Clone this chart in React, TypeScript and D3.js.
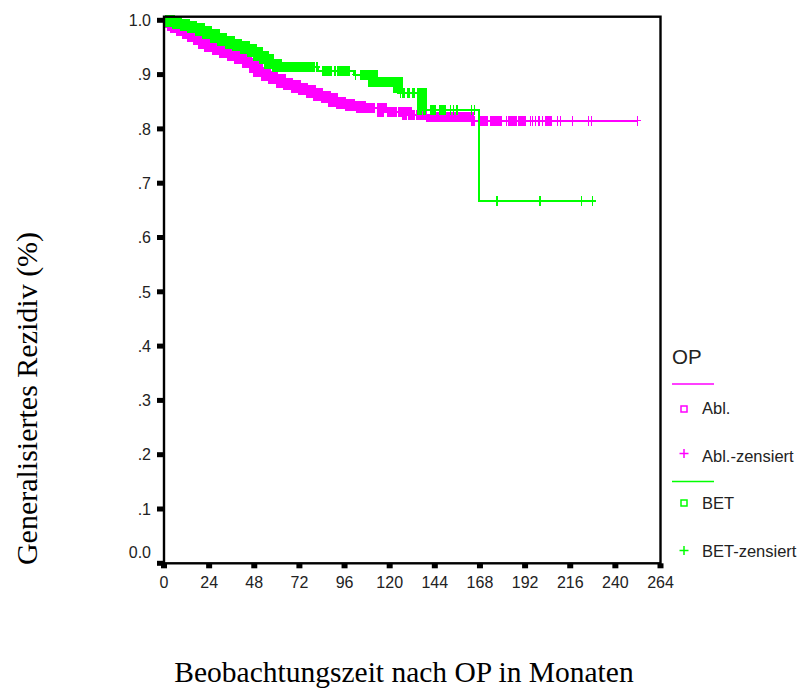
import React from 'react';
import * as d3 from 'd3';

// ---------- data ----------
const xTickValues = [0, 24, 48, 72, 96, 120, 144, 168, 192, 216, 240, 264];
const yTickValues = [0, 0.1, 0.2, 0.3, 0.4, 0.5, 0.6, 0.7, 0.8, 0.9, 1.0];
const yTickLabels = ['0.0', '.1', '.2', '.3', '.4', '.5', '.6', '.7', '.8', '.9', '1.0'];

// Abl. (magenta) Kaplan-Meier steps
const ablEventTimes = [0, 2, 4, 6, 9, 12, 15, 18, 21, 24, 28, 32, 36, 40, 44, 48, 50, 54, 58, 62, 66, 70, 74, 78, 82, 86, 90, 94, 99, 105, 116, 129, 142, 162];
const ablSurvival = [1, 0.995, 0.99, 0.985, 0.98, 0.975, 0.97, 0.963, 0.957, 0.951, 0.945, 0.94, 0.934, 0.928, 0.921, 0.912, 0.905, 0.897, 0.891, 0.885, 0.881, 0.876, 0.871, 0.866, 0.861, 0.856, 0.85, 0.846, 0.842, 0.838, 0.832, 0.826, 0.821, 0.815];
const ablEndTime = 251.8;
const ablCensorTimes = [113.4, 114.4, 182, 194.8, 196, 197.6, 199.3, 201.4, 209.2, 210.8, 217.2, 225.7, 227.3, 251.8];
const ablCensorBlockStarts = [1, 115, 118.7, 124.5, 129.9, 134.1, 141.6, 163, 167.1, 173.5, 183.1, 188.4, 202.8];
const ablCensorBlockEnds = [112, 117, 124, 129.3, 133.6, 140, 162, 165.5, 172.5, 179.9, 187.9, 192.5, 206.5];

// BET (green) Kaplan-Meier steps
const betEventTimes = [0, 3, 7, 11, 15, 19, 23, 27, 31, 35, 39, 43, 47, 50, 53, 56, 60, 82, 101, 111, 124.5, 137, 167.3];
const betSurvival = [1, 0.997, 0.993, 0.989, 0.985, 0.98, 0.974, 0.967, 0.962, 0.957, 0.952, 0.947, 0.942, 0.935, 0.928, 0.92, 0.914, 0.907, 0.9, 0.886, 0.867, 0.834, 0.667];
const betEndTime = 227.7;
const betCensorTimes = [81.3, 91, 101.7, 125.6, 152.2, 153.8, 155.9, 163.4, 165, 177, 200, 222, 227.7];
const betCensorBlockStarts = [0.5, 83.9, 91.9, 104.3, 126.5, 129.2, 131.8, 134.5, 137.5, 141.6, 146.4];
const betCensorBlockEnds = [80.4, 89.2, 99, 124.5, 128.3, 130.9, 133.6, 137.2, 139.4, 144.8, 150.1];

const legendLabels = ['Abl.', 'Abl.-zensiert', 'BET', 'BET-zensiert'];

// ---------- layout ----------
const W = 808;
const H = 689;
const MAGENTA = '#ff00ff';
const GREEN = '#00ff00';
const SANS = '"Liberation Sans", Arial, Helvetica, sans-serif';
const SERIF = '"Liberation Serif", "Times New Roman", Times, serif';

const x = d3.scaleLinear().domain([0, 264]).range([164, 660.5]);
const y = d3.scaleLinear().domain([0, 1]).range([563.3, 20.3]);

function survAt(times: number[], surv: number[], t: number) {
  let s = surv[0];
  for (let i = 0; i < times.length; i++) if (times[i] <= t) s = surv[i];
  return s;
}

function stepPoints(times: number[], surv: number[], t0: number, t1: number): [number, number][] {
  const pts: [number, number][] = [[t0, survAt(times, surv, t0)]];
  times.forEach((t, i) => {
    if (t > t0 && t < t1) pts.push([t, surv[i]]);
  });
  pts.push([t1, survAt(times, surv, t1)]);
  return pts;
}

const stepLine = d3
  .line<[number, number]>()
  .x((d) => x(d[0]))
  .y((d) => y(d[1]))
  .curve(d3.curveStepAfter);

function Curve({ times, surv, end, censors, bStart, bEnd, color }: any) {
  return (
    <g>
      <path d={stepLine(stepPoints(times, surv, 0, end)) || ''} fill="none" stroke={color} strokeWidth={2} />
      {bStart.map((s: number, i: number) => (
        <path
          key={'b' + i}
          d={stepLine(stepPoints(times, surv, s, bEnd[i])) || ''}
          fill="none"
          stroke={color}
          strokeWidth={10}
          strokeLinejoin="miter"
          strokeLinecap="butt"
        />
      ))}
      {censors.map((t: number, i: number) => {
        const cx = x(t);
        const cy = y(survAt(times, surv, t));
        return (
          <g key={'c' + i} stroke={color} strokeWidth={1.4}>
            <line x1={cx} x2={cx} y1={cy - 5} y2={cy + 5} />
            <line x1={cx - 3.5} x2={cx + 3.5} y1={cy} y2={cy} />
          </g>
        );
      })}
    </g>
  );
}

export default function App() {
  const legendX = 672;
  return (
    <svg
      width={W}
      height={H}
      viewBox={`0 0 ${W} ${H}`}
      style={{ position: 'absolute', left: 0, top: 0, background: '#fff' }}
    >
      <rect x={0} y={0} width={W} height={H} fill="#fff" />

      {/* curves */}
      <g shapeRendering="crispEdges">
        <Curve
          times={ablEventTimes}
          surv={ablSurvival}
          end={ablEndTime}
          censors={ablCensorTimes}
          bStart={ablCensorBlockStarts}
          bEnd={ablCensorBlockEnds}
          color={MAGENTA}
        />
        <Curve
          times={betEventTimes}
          surv={betSurvival}
          end={betEndTime}
          censors={betCensorTimes}
          bStart={betCensorBlockStarts}
          bEnd={betCensorBlockEnds}
          color={GREEN}
        />
      </g>

      {/* frame */}
      <rect
        x={x(0)}
        y={16.7}
        width={x(264) - x(0)}
        height={y(0) - 16.7}
        fill="none"
        stroke="#000"
        strokeWidth={2.4}
      />

      {/* y ticks */}
      {yTickValues.map((v, i) => (
        <g key={'yt' + i}>
          <rect x={x(0) - 7} y={y(v) - 2.5} width={7} height={5} fill="#000" />
          <text
            x={151}
            y={i === 0 ? y(v) - 11 : y(v)}
            dy="0.36em"
            textAnchor="end"
            fontFamily={SANS}
            fontSize={16}
            fill="#222"
          >
            {yTickLabels[i]}
          </text>
        </g>
      ))}

      {/* x ticks */}
      {xTickValues.map((v, i) => (
        <g key={'xt' + i}>
          <rect x={x(v) - 3} y={y(0)} width={6} height={5} fill="#000" />
          <text x={x(v)} y={587.5} textAnchor="middle" fontFamily={SANS} fontSize={16} fill="#222">
            {v}
          </text>
        </g>
      ))}

      {/* axis titles */}
      <text x={404} y={682} textAnchor="middle" fontFamily={SERIF} fontSize={29.5} fill="#000">
        Beobachtungszeit nach OP in Monaten
      </text>
      <text
        transform="translate(37,398.5) rotate(-90)"
        textAnchor="middle"
        fontFamily={SERIF}
        fontSize={30}
        fill="#000"
      >
        Generalisiertes Rezidiv (%)
      </text>

      {/* legend */}
      <g fontFamily={SANS} fill="#222">
        <text x={legendX} y={363.5} fontSize={20.5}>
          OP
        </text>
        <line x1={legendX} x2={714} y1={384} y2={384} stroke={MAGENTA} strokeWidth={1.5} />
        <rect x={681} y={406} width={6} height={6} fill="none" stroke={MAGENTA} strokeWidth={1.5} />
        <text x={702} y={414} fontSize={16.5}>
          {legendLabels[0]}
        </text>
        <g stroke={MAGENTA} strokeWidth={1.5}>
          <line x1={684} x2={684} y1={449} y2={458} />
          <line x1={679.5} x2={688.5} y1={453.5} y2={453.5} />
        </g>
        <text x={702} y={461.5} fontSize={16.5}>
          {legendLabels[1]}
        </text>
        <line x1={legendX} x2={714} y1={481.5} y2={481.5} stroke={GREEN} strokeWidth={1.5} />
        <rect x={681} y={500} width={6} height={6} fill="none" stroke={GREEN} strokeWidth={1.5} />
        <text x={702} y={508.5} fontSize={16.5}>
          {legendLabels[2]}
        </text>
        <g stroke={GREEN} strokeWidth={1.5}>
          <line x1={684} x2={684} y1={546} y2={555} />
          <line x1={679.5} x2={688.5} y1={550.5} y2={550.5} />
        </g>
        <text x={702} y={556.5} fontSize={16.5}>
          {legendLabels[3]}
        </text>
      </g>
    </svg>
  );
}
